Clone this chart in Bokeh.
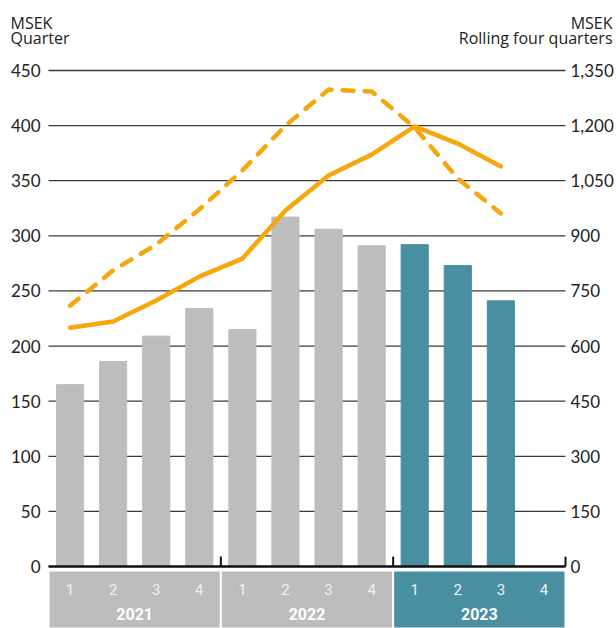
from bokeh.plotting import figure
from bokeh.models import Range1d, ColumnDataSource
from bokeh.core.properties import value
from bokeh.embed import file_html
from bokeh.resources import INLINE

# ---------------- data ----------------
years = ["2021", "2022", "2023"]
quarters = ["1", "2", "3", "4"]
quarter_values = [165, 186, 209, 234, 215, 317, 306, 291, 292, 273, 241, None]
rolling_solid = [650, 667, 724, 789, 838, 969, 1064, 1121, 1198, 1151, 1089, None]
rolling_dashed = [710, 806, 876, 972, 1078, 1200, 1298, 1293, 1195, 1056, 961, None]
left_ticks = [0, 50, 100, 150, 200, 250, 300, 350, 400, 450]
right_ticks = [0, 150, 300, 450, 600, 750, 900, 1050, 1200, 1350]
left_title = ["MSEK", "Quarter"]
right_title = ["MSEK", "Rolling four quarters"]

GREY = "#bdbdbd"
TEAL = "#4a8ea2"
ORANGE = "#f6a70d"
FONT = "Lato"
TITLE_FONT = "Open Sans"
INK = "#222222"

n = len(years) * len(quarters)
xs = [i + 0.5 for i in range(n)]
bar_colors = [GREY if i < 8 else TEAL for i in range(n)]

# pixel geometry of the plotting area inside the 616 x 628 canvas
W, H = 616, 628
X0, X1 = 48, 565          # pixel x of category 0 and category n
Y0, Y450 = 566, 70        # pixel y of value 0 and 450 (left scale)
PXX = (X1 - X0) / n
PX = (Y0 - Y450) / 450


def dx(px):
    return (px - X0) / PXX


def dy(py):
    return (Y0 - py) / PX


p = figure(width=W, height=H, output_backend="svg", toolbar_location=None,
           x_range=Range1d(dx(0), dx(W)), y_range=Range1d(dy(H), dy(0)),
           x_axis_location=None, y_axis_location=None,
           min_border=0, outline_line_color=None)
p.extra_y_ranges = {"right": Range1d(dy(H) * 3, dy(0) * 3)}
p.xgrid.visible = False
p.ygrid.visible = False

# grid lines (between category 0 and category n)
grid_vals = left_ticks[1:]
p.segment(x0=[0] * len(grid_vals), x1=[n] * len(grid_vals), y0=grid_vals, y1=grid_vals,
          line_color="#3a3a3a", line_width=1.3)

# tick labels, left scale
p.text(x=[dx(40)] * len(left_ticks), y=left_ticks, text=[str(t) for t in left_ticks],
       text_font=value(FONT), text_font_size="17px", text_color=INK,
       text_align="right", text_baseline="middle")
# tick labels, right scale
p.text(x=[dx(570)] * len(right_ticks), y=right_ticks, text=[f"{t:,}" for t in right_ticks],
       y_range_name="right", text_font=value(FONT), text_font_size="17px", text_color=INK,
       text_align="left", text_baseline="middle")

# bars
src = ColumnDataSource(dict(x=xs, top=[v if v is not None else float("nan") for v in quarter_values],
                            color=bar_colors))
p.vbar(x="x", top="top", bottom=0, width=0.63, color="color", source=src)

# zero axis line and year separators
p.segment(x0=[0], x1=[n], y0=[0], y1=[0], line_color="#111111", line_width=2.5)
p.segment(x0=[4, 8, 12], y0=[0, 0, 0], x1=[4, 8, 12], y1=[9, 9, 9],
          line_color="#111111", line_width=2)

# lines (rolling four quarters, right scale)
valid = [i for i in range(n) if rolling_solid[i] is not None]
p.line([xs[i] for i in valid], [rolling_solid[i] for i in valid], y_range_name="right",
       line_color=ORANGE, line_width=4.5, line_cap="round", line_join="round")
p.line([xs[i] for i in valid], [rolling_dashed[i] for i in valid], y_range_name="right",
       line_color=ORANGE, line_width=4.5, line_dash="11 11", line_cap="round", line_join="round")

# category band
band_colors = [GREY, GREY, TEAL]
p.quad(left=[0, 4, 8], right=[4, 8, 12], bottom=[dy(H)] * 3, top=[dy(570)] * 3,
       fill_color=band_colors, line_color="white", line_width=2)
p.text(x=xs, y=[dy(589)] * n, text=quarters * len(years),
       text_font=value("Roboto"), text_font_size="15px", text_color="#f0f0f0",
       text_align="center", text_baseline="middle")
p.text(x=[2, 6, 10], y=[dy(613)] * 3, text=years,
       text_font=value("Roboto"), text_font_size="16px", text_font_style="bold",
       text_color="#ffffff", text_align="center", text_baseline="middle")

# axis titles
p.text(x=[dx(10)] * 2, y=[dy(22), dy(37)], text=left_title,
       text_font=value(TITLE_FONT), text_font_size="16px", text_color=INK,
       text_align="left", text_baseline="middle")
p.text(x=[dx(612)] * 2, y=[dy(22), dy(37)], text=right_title,
       text_font=value(TITLE_FONT), text_font_size="16px", text_color=INK,
       text_align="right", text_baseline="middle")

open("out.html", "w").write(file_html(p, INLINE))
